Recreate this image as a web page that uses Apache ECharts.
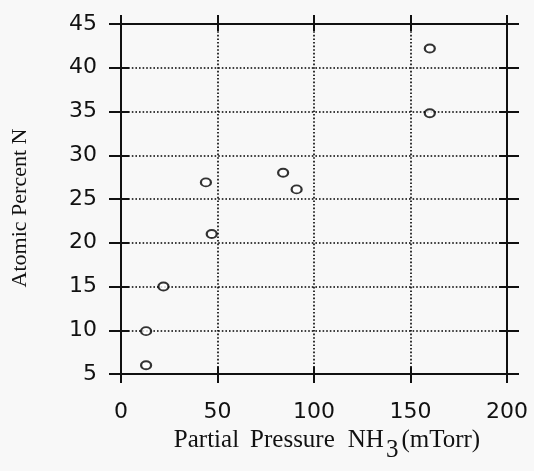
<!DOCTYPE html>
<html>
<head>
<meta charset="utf-8">
<script src="https://cdn.jsdelivr.net/npm/echarts@6/dist/echarts.min.js"></script>
<style>
  html, body { margin: 0; padding: 0; background: #f8f8f8; }
  #container { width: 534px; height: 471px; }
</style>
</head>
<body>
<div id="container"></div>
<script>
// data
var pressure = [13, 13, 22, 44, 47, 84, 91, 160, 160];
var atomicN = [6, 9.9, 15, 26.9, 21, 28, 26.1, 42.2, 34.8];
var xTicks = [0, 50, 100, 150, 200];
var yTicks = [5, 10, 15, 20, 25, 30, 35, 40, 45];

var points = [];
for (var i = 0; i < pressure.length; i++) {
    points.push([pressure[i], atomicN[i]]);
}

var ink = '#111';
var numFont = 'DejaVu Sans';
var serif = 'Liberation Serif';

// one axis per side and tick direction (ticks cross the frame)
function makeX(pos, inside, show) {
    return {
        type: 'value', position: pos,
        min: xTicks[0], max: xTicks[xTicks.length - 1], interval: 50,
        axisLine: { show: true, onZero: false, lineStyle: { color: ink, width: 2 } },
        axisTick: { show: true, inside: inside, length: inside ? 7 : 9, lineStyle: { color: ink, width: 2 } },
        axisLabel: { show: show, margin: 27, color: ink, fontFamily: numFont, fontSize: 22 },
        splitLine: { show: false }
    };
}
function makeY(pos, inside, show) {
    return {
        type: 'value', position: pos,
        min: yTicks[0], max: yTicks[yTicks.length - 1], interval: 5,
        axisLine: { show: true, onZero: false, lineStyle: { color: ink, width: 2 } },
        axisTick: { show: true, inside: inside, length: inside ? 8 : 12, lineStyle: { color: ink, width: 2 } },
        axisLabel: { show: show, margin: 24, color: ink, fontFamily: numFont, fontSize: 22 },
        splitLine: { show: false }
    };
}

// title pieces, spaced out like the scan
function piece(gap, drop) {
    return { fontFamily: serif, fontSize: 25, color: ink, verticalAlign: 'top', padding: [drop, 0, 0, gap] };
}

var xMain = makeX('bottom', false, true);
xMain.splitLine = { show: true, lineStyle: { color: '#000', width: 1.6, type: [1.6, 2] } };
xMain.name = '{p|Partial}{q|Pressure}{n|NH}{s|3}{m|(mTorr)}';
xMain.nameLocation = 'middle';
xMain.nameGap = 46;
xMain.nameTextStyle = {
    color: ink, fontFamily: serif, fontSize: 25, verticalAlign: 'top', padding: [0, 0, 0, 26],
    rich: { p: piece(0, 0), q: piece(11, 0), n: piece(13, 0), s: piece(2, 10), m: piece(3, 0) }
};

var yMain = makeY('left', false, true);
yMain.splitLine = { show: true, lineStyle: { color: '#000', width: 1.6, type: [1.6, 2] } };
yMain.name = 'Atomic Percent N';
yMain.nameLocation = 'middle';
yMain.nameGap = 90;
yMain.nameTextStyle = { color: ink, fontFamily: serif, fontSize: 22, padding: [0, 0, 0, -18] };

var dom = document.getElementById('container');
var myChart = echarts.init(dom);
var option = {
    backgroundColor: '#f8f8f8',
    animation: false,
    grid: { left: 121, right: 27, top: 24, bottom: 97, outerBoundsMode: 'none', containLabel: false },
    xAxis: [xMain, makeX('bottom', true, false), makeX('top', false, false), makeX('top', true, false)],
    yAxis: [yMain, makeY('left', true, false), makeY('right', false, false), makeY('right', true, false)],
    series: [
        {
            type: 'scatter',
            xAxisIndex: 0,
            yAxisIndex: 0,
            symbol: 'emptyCircle',
            symbolSize: [10, 8],
            itemStyle: { color: '#000', borderColor: '#000', borderWidth: 2.2 },
            data: points
        }
    ]
};
myChart.setOption(option, true);
</script>
</body>
</html>
